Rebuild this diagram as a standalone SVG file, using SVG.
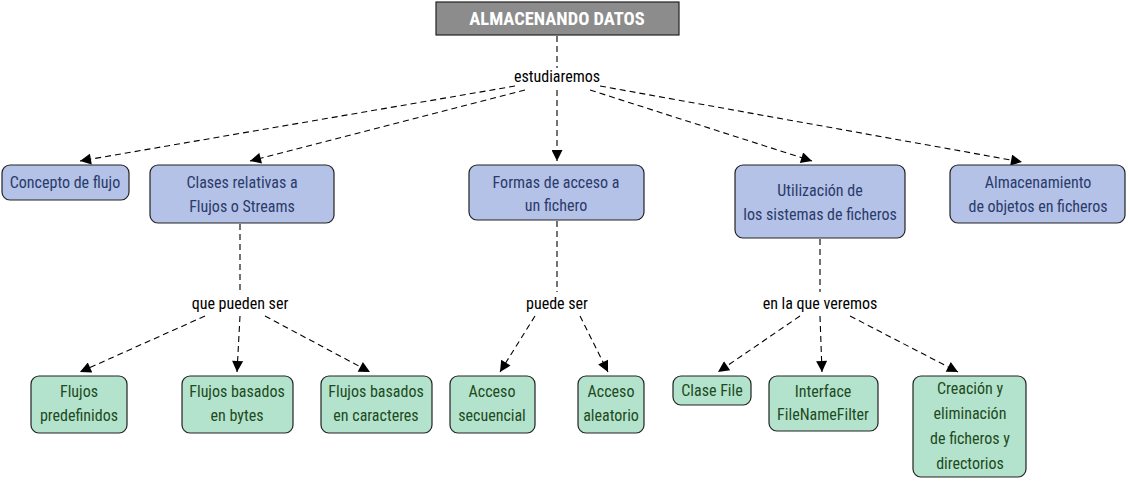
<svg xmlns="http://www.w3.org/2000/svg" width="1130" height="482" viewBox="0 0 1130 482">
<defs>
<marker id="ah" viewBox="0 0 10 10" refX="10" refY="5" markerWidth="14" markerHeight="11" markerUnits="userSpaceOnUse" orient="auto"><path d="M0,0 L10,5 L0,10 z" fill="#000"/></marker>
<style>
.l1 rect{fill:#b3c2e6;stroke:#222;stroke-width:1.2}
.l2 rect{fill:#b3e3cc;stroke:#222;stroke-width:1.2}
text{font-family:"Liberation Sans Narrow","Roboto Condensed","Liberation Sans",sans-serif;font-size:16px;text-anchor:middle}
.l1 text{fill:#2b3a6b}
.l2 text{fill:#1e4a22}
.lbl{fill:#000}
.ttl{fill:#fff;font-weight:bold;font-size:18.5px}
#connectors path{fill:none;stroke:#000;stroke-width:1.1;stroke-dasharray:6,4}
#connectors .a{marker-end:url(#ah)}
</style>
</defs>
<rect width="1130" height="482" fill="#fff"/>
<g id="connectors">
<path d="M557,36 L557,68"/>
<path class="a" d="M515,86 L80,161"/>
<path class="a" d="M525,90 L250,161"/>
<path class="a" d="M557,90 L557,161"/>
<path class="a" d="M590,90 L812,161"/>
<path class="a" d="M600,86 L1022,162"/>
<path d="M240,224 L240,292"/>
<path class="a" d="M205,316 L80,372"/>
<path class="a" d="M240,316 L237,372"/>
<path class="a" d="M265,316 L370,372"/>
<path d="M557,221 L557,292"/>
<path class="a" d="M535,316 L500,372"/>
<path class="a" d="M580,316 L608,372"/>
<path d="M820,239 L820,292"/>
<path class="a" d="M800,316 L718,372"/>
<path class="a" d="M820,316 L822,372"/>
<path class="a" d="M850,316 L958,372"/>
</g>
<g id="title"><rect x="436" y="2" width="243" height="33" fill="#8c8c8c" stroke="#222" stroke-width="1.2"/><text class="ttl" x="557" y="25">ALMACENANDO DATOS</text></g>
<g id="lbl-estudiaremos"><text class="lbl" x="557" y="82">estudiaremos</text></g>
<g id="lbl-quepueden"><text class="lbl" x="240" y="309">que pueden ser</text></g>
<g id="lbl-puedeser"><text class="lbl" x="557" y="309">puede ser</text></g>
<g id="lbl-enlaque"><text class="lbl" x="820" y="309">en la que veremos</text></g>
<g id="n-concepto" class="l1"><rect x="2" y="165" width="127" height="35" rx="8"/><text x="65" y="188">Concepto de flujo</text></g>
<g id="n-clases" class="l1"><rect x="150" y="165" width="184" height="58" rx="8"/><text x="242" y="188">Clases relativas a</text><text x="242" y="212">Flujos o Streams</text></g>
<g id="n-formas" class="l1"><rect x="469" y="165" width="175" height="55" rx="8"/><text x="556" y="188">Formas de acceso a</text><text x="556" y="211">un fichero</text></g>
<g id="n-utilizacion" class="l1"><rect x="735" y="165" width="170" height="73" rx="8"/><text x="820" y="196">Utilización de</text><text x="820" y="220">los sistemas de ficheros</text></g>
<g id="n-almacenamiento" class="l1"><rect x="950" y="165" width="175" height="58" rx="8"/><text x="1038" y="188">Almacenamiento</text><text x="1038" y="212">de objetos en ficheros</text></g>
<g id="n-predef" class="l2"><rect x="31" y="376" width="96" height="57" rx="8"/><text x="79" y="397">Flujos</text><text x="79" y="421">predefinidos</text></g>
<g id="n-bytes" class="l2"><rect x="182" y="376" width="111" height="57" rx="8"/><text x="237" y="397">Flujos basados</text><text x="237" y="421">en bytes</text></g>
<g id="n-caract" class="l2"><rect x="321" y="376" width="111" height="57" rx="8"/><text x="376" y="397">Flujos basados</text><text x="376" y="421">en caracteres</text></g>
<g id="n-secuencial" class="l2"><rect x="450" y="376" width="85" height="57" rx="8"/><text x="492" y="397">Acceso</text><text x="492" y="421">secuencial</text></g>
<g id="n-aleatorio" class="l2"><rect x="578" y="376" width="66" height="57" rx="8"/><text x="611" y="397">Acceso</text><text x="611" y="421">aleatorio</text></g>
<g id="n-clasefile" class="l2"><rect x="673" y="376" width="78" height="29" rx="8"/><text x="712" y="396">Clase File</text></g>
<g id="n-interface" class="l2"><rect x="769" y="376" width="109" height="55" rx="8"/><text x="823" y="397">Interface</text><text x="823" y="420">FileNameFilter</text></g>
<g id="n-creacion" class="l2"><rect x="913" y="376" width="113" height="101" rx="8"/><text x="970" y="394">Creación y</text><text x="970" y="419">eliminación</text><text x="970" y="444">de ficheros y</text><text x="970" y="469">directorios</text></g>
</svg>
